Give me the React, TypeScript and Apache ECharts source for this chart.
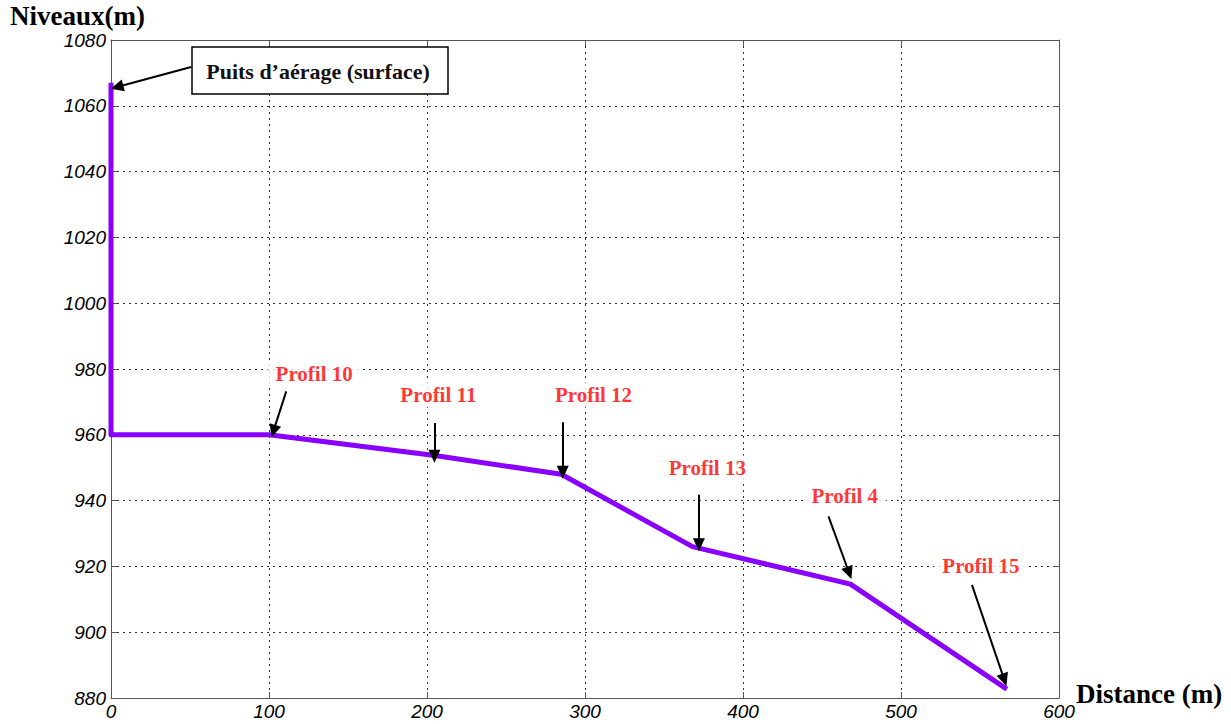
import React, { useEffect, useRef } from "react";
import * as echarts from "echarts";

// Profile of the gallery: distance (m) vs level (m)
const distance = [0, 0, 100, 205, 285, 368, 468, 567];
const level = [1067, 960, 960, 953.7, 948, 926, 914.6, 882.7];

// Axis ranges
const xMin = 0;
const xMax = 600;
const xStep = 100;
const yMin = 880;
const yMax = 1080;
const yStep = 20;

// Profile annotation labels (data coordinates of label centres)
const profileNames = ["Profil 10", "Profil 11", "Profil 12", "Profil 13", "Profil 4", "Profil 15"];
const profileLabelX = [128.6, 207.2, 305.4, 377.4, 464.4, 550.6];
const profileLabelY = [978.6, 972.2, 972.2, 949.9, 941.5, 920];

// Arrows (data coordinates): start -> end
const arrowFromX = [50.7, 110.9, 204.7, 285.9, 372.1, 454.1, 544.9];
const arrowFromY = [1071.8, 973.2, 963.6, 963.8, 941.8, 935.2, 914.4];
const arrowToX = [3.8, 102.8, 204.7, 285.9, 372.1, 467.2, 565.4];
const arrowToY = [1065.7, 961.1, 953.5, 948.6, 926.6, 918, 885.5];

const yTitle = "Niveaux(m)";
const xTitle = "Distance (m)";
const shaftLabel = "Puits d\u2019aérage (surface)";

export default function App() {
  const ref = useRef<HTMLDivElement>(null);

  useEffect(() => {
    if (!ref.current) return;
    const chart = echarts.init(ref.current, null, { renderer: "svg" });

    const tickFont = {
      fontFamily: "Liberation Sans, Arial, sans-serif",
      fontStyle: "italic",
      fontSize: 19,
      color: "#000",
      formatter: (v: number) => String(v),
    };
    const axisLineStyle = { color: "#555", width: 1 };
    const gridLine = { show: true, lineStyle: { color: "#333", width: 1, type: [2, 4] } };

    const lineData = distance.map((d, i) => [d, level[i]]);
    const arrows = arrowFromX.map((x, i) => [
      { coord: [x, arrowFromY[i]] },
      { coord: [arrowToX[i], arrowToY[i]] },
    ]);
    const labels = profileNames.map((n, i) => ({
      name: n,
      value: [profileLabelX[i], profileLabelY[i]],
    }));

    chart.setOption({
      animation: false,
      backgroundColor: "#fff",
      grid: { left: 111, top: 40, right: 172, bottom: 26 },
      xAxis: [
        {
          type: "value",
          position: "bottom",
          min: xMin,
          max: xMax,
          interval: xStep,
          axisLine: { show: true, onZero: false, lineStyle: axisLineStyle },
          axisTick: { show: true, inside: true, length: 6, lineStyle: axisLineStyle },
          axisLabel: { ...tickFont, margin: 4 },
          splitLine: gridLine,
        },
        {
          type: "value",
          position: "top",
          min: xMin,
          max: xMax,
          interval: xStep,
          axisLine: { show: true, onZero: false, lineStyle: axisLineStyle },
          axisTick: { show: true, inside: true, length: 6, lineStyle: axisLineStyle },
          axisLabel: { show: false },
          splitLine: { show: false },
        },
      ],
      yAxis: [
        {
          type: "value",
          position: "left",
          min: yMin,
          max: yMax,
          interval: yStep,
          axisLine: { show: true, onZero: false, lineStyle: axisLineStyle },
          axisTick: { show: true, inside: true, length: 6, lineStyle: axisLineStyle },
          axisLabel: { ...tickFont, margin: 5 },
          splitLine: gridLine,
        },
        {
          type: "value",
          position: "right",
          min: yMin,
          max: yMax,
          interval: yStep,
          axisLine: { show: true, onZero: false, lineStyle: axisLineStyle },
          axisTick: { show: true, inside: true, length: 6, lineStyle: axisLineStyle },
          axisLabel: { show: false },
          splitLine: { show: false },
        },
      ],
      series: [
        {
          type: "line",
          xAxisIndex: 0,
          yAxisIndex: 0,
          data: lineData,
          showSymbol: false,
          clip: false,
          lineStyle: { color: "#8A00FF", width: 5, join: "round" },
          z: 3,
          markLine: {
            silent: true,
            symbol: ["none", "triangle"],
            symbolSize: [12, 13],
            label: { show: false },
            lineStyle: { color: "#000", width: 2, type: "solid" },
            data: arrows,
            z: 4,
          },
        },
        {
          type: "scatter",
          xAxisIndex: 0,
          yAxisIndex: 0,
          data: labels,
          symbolSize: 1,
          itemStyle: { color: "rgba(0,0,0,0)" },
          silent: true,
          z: 5,
          label: {
            show: true,
            position: "inside",
            formatter: "{b}",
            color: "#FF0000",
            fontFamily: "Liberation Serif, Times New Roman, serif",
            fontWeight: "bold",
            fontSize: 21,
            backgroundColor: "#fff",
            padding: [2, 8],
          },
        },
      ],
      graphic: [
        {
          type: "text",
          left: 10,
          top: 2,
          style: {
            text: yTitle,
            fontFamily: "Liberation Serif, Times New Roman, serif",
            fontWeight: "bold",
            fontSize: 27,
            fill: "#000",
          },
        },
        {
          type: "text",
          left: 1076,
          top: 680,
          style: {
            text: xTitle,
            fontFamily: "Liberation Serif, Times New Roman, serif",
            fontWeight: "bold",
            fontSize: 27,
            fill: "#000",
          },
        },
        {
          type: "rect",
          shape: { x: 192, y: 47, width: 256, height: 47 },
          style: { fill: "#fff", stroke: "#000", lineWidth: 1.5 },
          z: 10,
        },
        {
          type: "text",
          x: 318,
          y: 71,
          style: {
            text: shaftLabel,
            fontFamily: "Liberation Serif, Times New Roman, serif",
            fontWeight: "bold",
            fontSize: 22,
            fill: "#111",
            align: "center",
            verticalAlign: "middle",
          },
          z: 11,
        },
      ],
    });

    return () => chart.dispose();
  }, []);

  return (
    <div
      ref={ref}
      style={{ position: "absolute", left: 0, top: 0, width: 1231, height: 724 }}
    />
  );
}
